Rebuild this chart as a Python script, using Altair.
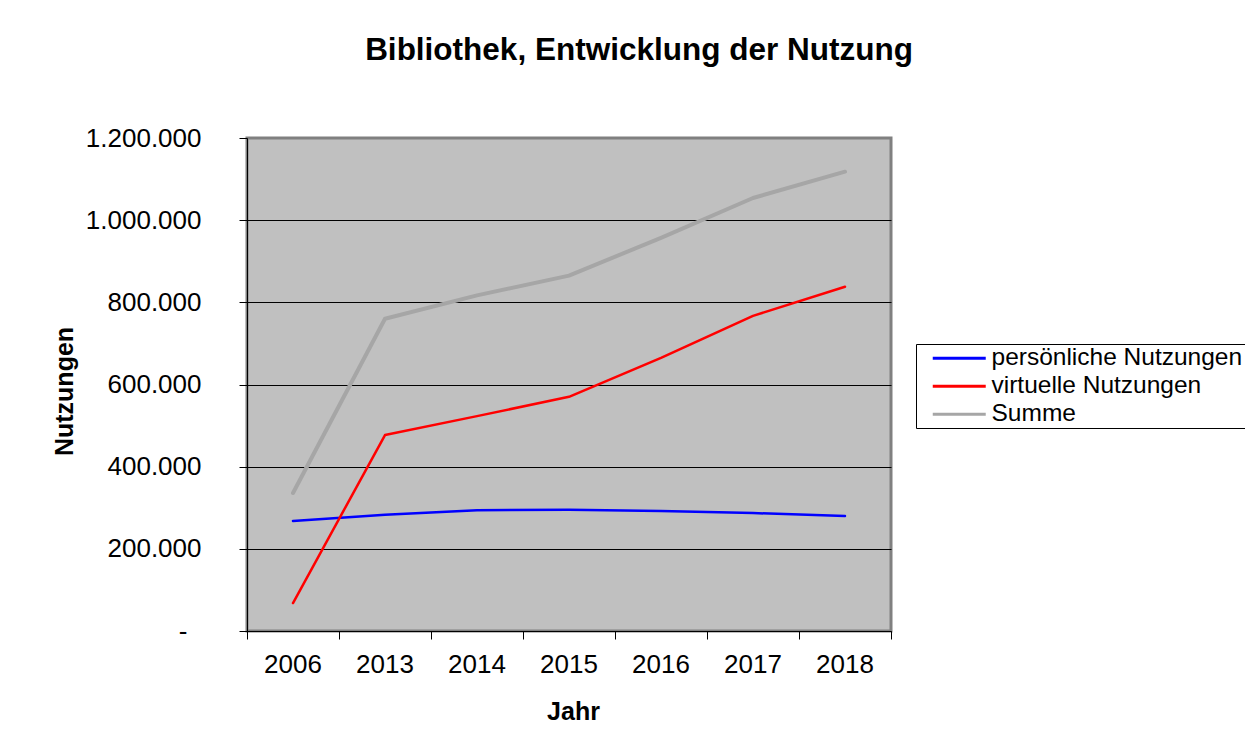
import altair as alt
import pandas as pd

years = ["2006", "2013", "2014", "2015", "2016", "2017", "2018"]
persoenlich = [268000, 283000, 294000, 295000, 292000, 287000, 280000]
virtuell = [68000, 477000, 523000, 570000, 665000, 767000, 838000]
summe = [336000, 760000, 817000, 865000, 957000, 1054000, 1118000]
series = ["persönliche Nutzungen", "virtuelle Nutzungen", "Summe"]
colors = ["#0000FF", "#FF0000", "#A6A6A6"]
y_ticks = [0, 200000, 400000, 600000, 800000, 1000000, 1200000]

rows = []
for name, vals in zip(series, [persoenlich, virtuell, summe]):
    for yr, v in zip(years, vals):
        rows.append({"Jahr": yr, "Wert": v, "Serie": name})
df = pd.DataFrame(rows)

FONT = "Liberation Sans"

chart = (
    alt.Chart(df)
    .mark_line(strokeJoin="round", strokeCap="round")
    .encode(
        x=alt.X(
            "Jahr:N",
            sort=years,
            bandPosition=0.5,
            scale=alt.Scale(type="band", domain=years, paddingInner=0, paddingOuter=0),
            axis=alt.Axis(
                title="Jahr",
                labelAngle=0,
                bandPosition=1,
                tickExtra=True,
                grid=False,
                domainColor="black",
                domainWidth=1,
                tickColor="black",
                tickSize=8,
                labelFont=FONT,
                labelFontSize=26,
                labelColor="black",
                labelBaseline="alphabetic",
                labelPadding=33,
                titleFont=FONT,
                titleFontSize=25,
                titleFontWeight="bold",
                titleColor="black",
                titleBaseline="alphabetic",
                titleX=326,
                titleY=88,
                titleAlign="center",
            ),
        ),
        y=alt.Y(
            "Wert:Q",
            scale=alt.Scale(domain=[0, 1200000], nice=False, zero=True),
            axis=alt.Axis(
                title="Nutzungen",
                values=y_ticks,
                labelExpr="datum.value == 0 ? '-' : replace(replace(format(datum.value, ','), ',', '.'), ',', '.')",
                grid=True,
                gridColor={"condition": {"test": "datum.value >= 1200000", "value": "#808080"}, "value": "black"},
                gridWidth=1,
                domainColor="black",
                domainWidth=1,
                tickColor="black",
                tickSize=8,
                labelFont=FONT,
                labelFontSize=26,
                labelColor="black",
                labelPadding={"condition": {"test": "datum.value == 0", "value": 52}, "value": 38},
                labelBaseline="middle",
                titleFont=FONT,
                titleFontSize=25,
                titleFontWeight="bold",
                titleColor="black",
                titleAngle=270,
                titleBaseline="alphabetic",
                titleAlign="center",
                titleX=-175,
                titleY=253,
            ),
        ),
        color=alt.Color(
            "Serie:N",
            scale=alt.Scale(domain=series, range=colors),
            legend=alt.Legend(
                title=None,
                orient="none",
                legendX=669,
                legendY=206,
                direction="vertical",
                strokeColor="black",
                fillColor="white",
                padding=2,
                symbolType="M-3,0H3",
                symbolSize=312,
                symbolOffset=29,
                symbolStrokeWidth=3,
                labelFont=FONT,
                labelFontSize=24.5,
                labelColor="black",
                labelOffset=20,
                labelLimit=600,
                rowPadding=3,
                labelExpr="datum.label + '\u00a0\u00a0\u00a0'",
            ),
        ),
        strokeWidth=alt.condition("datum.Serie == 'Summe'", alt.value(4), alt.value(2.5)),
    )
    .properties(
        width=644,
        height=493,
        autosize=alt.AutoSizeParams(type="none"),
        padding={"left": 239, "top": 130, "right": 354, "bottom": 113},
        background="white",
        title=alt.TitleParams(
            "Bibliothek, Entwicklung der Nutzung",
            font=FONT,
            fontSize=31.5,
            fontWeight="bold",
            color="black",
            anchor="middle",
            frame="group",
            dx=70,
            offset=34,
            baseline="alphabetic",
        ),
    )
    .configure_view(fill="#C0C0C0", stroke="#808080", strokeWidth=3)
)

chart.save("out.html", embed_options={"renderer": "svg", "actions": False})
